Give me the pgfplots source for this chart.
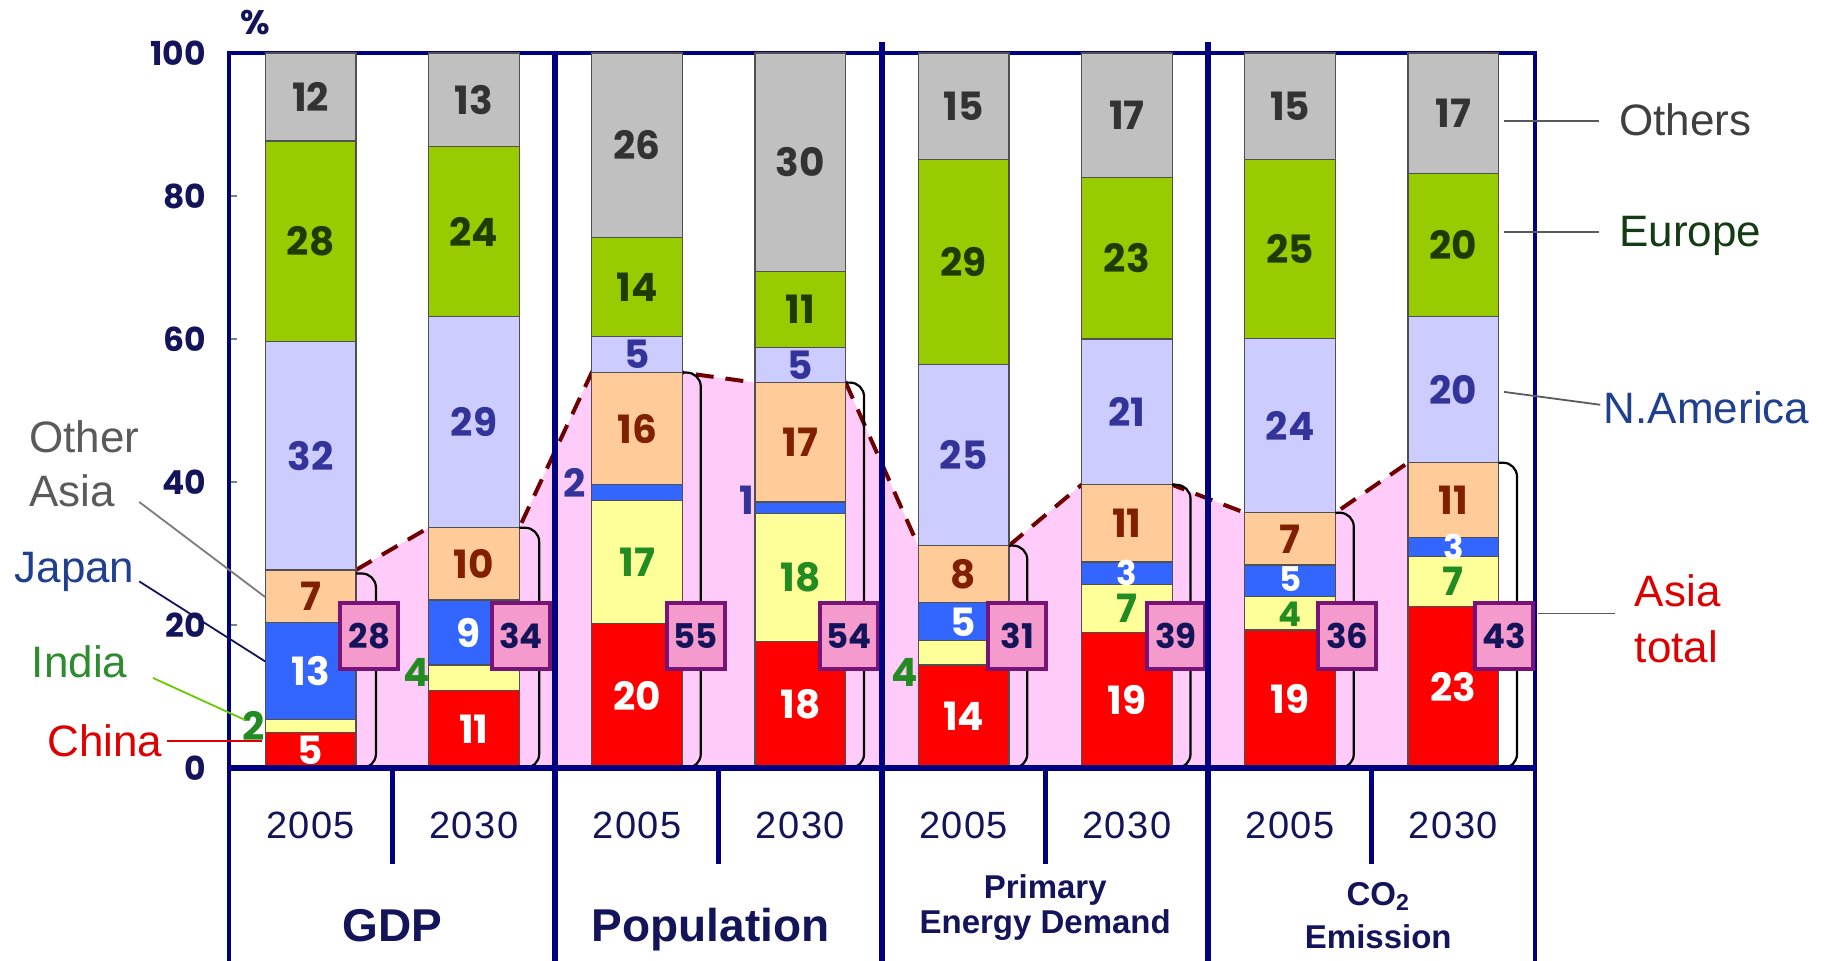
\documentclass[border=0pt]{standalone}
\usepackage{fontspec}
\setmainfont{Liberation Sans}
\newfontfamily\gothic{Poppins}
\newfontfamily\spaced{Liberation Sans}[LetterSpace=4]
\usepackage{pgfplots}
\usepackage{pgfplotstable}
\pgfplotsset{compat=1.18}

\definecolor{navy}{RGB}{0,0,128}
\definecolor{tNavy}{RGB}{20,20,90}
\definecolor{cChina}{RGB}{255,0,0}
\definecolor{cIndia}{RGB}{255,255,153}
\definecolor{cJapan}{RGB}{51,102,255}
\definecolor{cOA}{RGB}{255,204,153}
\definecolor{cNA}{RGB}{204,204,255}
\definecolor{cEU}{RGB}{153,204,0}
\definecolor{cOth}{RGB}{192,192,192}
\definecolor{cPink}{RGB}{255,204,250}
\definecolor{cBox}{RGB}{244,154,204}
\definecolor{cBoxLine}{RGB}{120,20,120}
\definecolor{tNA}{RGB}{51,51,153}
\definecolor{tOA}{RGB}{128,32,0}
\definecolor{tEU}{RGB}{30,60,0}
\definecolor{tOth}{RGB}{51,51,51}
\definecolor{tIndia}{RGB}{34,139,34}
\definecolor{dashc}{RGB}{110,0,0}
\definecolor{barline}{RGB}{80,80,80}
\definecolor{annGray}{RGB}{90,90,90}
\definecolor{annBlue}{RGB}{31,63,143}
\definecolor{annGreen}{RGB}{46,139,46}
\definecolor{annRed}{RGB}{220,0,0}
\definecolor{annEU}{RGB}{20,60,20}

% shares (%) of world, bottom to top: China, India, Japan, Other Asia, N.America, Europe, Others
% x: 0 GDP2005, 1 GDP2030, 2 Pop2005, 3 Pop2030, 4 PED2005, 5 PED2030, 6 CO2 2005, 7 CO2 2030
\pgfplotstableread{
x china india japan oa na eu oth
0 5.0 1.8 13.5 7.4 31.9 28.1 12.3
1 10.8 3.6 9.1 10.1 29.5 23.8 13.1
2 20.2 17.2 2.2 15.7 5.0 13.9 25.8
3 17.7 17.9 1.6 16.7 4.9 10.6 30.6
4 14.4 3.4 5.3 8.0 25.3 28.7 14.9
5 18.9 6.8 3.1 10.8 20.4 22.6 17.4
6 19.3 4.7 4.4 7.3 24.4 25.0 14.9
7 22.6 7.0 2.6 10.5 20.4 20.0 16.9
}\shares

\newcommand\segfont{\gothic\bfseries\fontsize{19.5}{21}\selectfont}
\newcommand\smallseg{\gothic\bfseries\fontsize{17}{19}\selectfont}
\newcommand\boxfont{\gothic\bfseries\fontsize{17}{19}\selectfont}
\newcommand\annfont{\fontsize{22}{28}\selectfont}
\newcommand\catfont{\bfseries\fontsize{23}{27}\selectfont}
\newcommand\subcatfont{\bfseries\fontsize{16.5}{20}\selectfont}
\newcommand\yrfont{\spaced\fontsize{19}{22}\selectfont}

\tikzset{
  lab/.style={font=\segfont, inner sep=0pt},
  abox/.style={fill=cBox, draw=cBoxLine, line width=2pt, minimum width=29pt,
     minimum height=33pt, inner sep=0pt, font=\boxfont, text=tNavy},
  ann/.style={font=\annfont, inner sep=0pt, anchor=base west},
  brk/.style={black, line width=1.1pt, rounded corners=7pt},
}

\begin{document}
\begin{tikzpicture}
\useasboundingbox (-114.5pt,-96.5pt) rectangle (807.5pt,384pt);
\pgfplotsset{common/.style={width=653pt,height=357.5pt,scale only axis,
  xmin=-0.5,xmax=7.5,ymin=0,ymax=100,enlargelimits=false,clip=false}}

% Asia total area and dashed connector
\begin{axis}[common, hide axis]
\addplot[fill=cPink, draw=none] coordinates {
(0.278,27.7) (0.722,33.6) (1.278,33.6) (1.722,55.3) (2.278,55.3) (2.722,53.9)
(3.278,53.9) (3.722,31.1) (4.278,31.1) (4.722,39.6) (5.278,39.6) (5.722,35.7)
(6.278,35.7) (6.722,42.7)} \closedcycle;
\addplot[dashc, line width=2pt, dash pattern=on 9pt off 6pt] coordinates {
(0.278,27.7) (0.722,33.6) (1.278,33.6) (1.722,55.3) (2.278,55.3) (2.722,53.9)
(3.278,53.9) (3.722,31.1) (4.278,31.1) (4.722,39.6) (5.278,39.6) (5.722,35.7)
(6.278,35.7) (6.722,42.7)};
\end{axis}

% stacked bars
\begin{axis}[common, ybar stacked, bar width=0.556,
  axis line style={navy, line width=2.2pt},
  xtick=\empty, ytick={0,20,40,60,80,100}, ytick pos=left, tick align=inside,
  major tick length=4pt, tick style={gray, line width=0.8pt},
  /pgf/number format/assume math mode=true,
  yticklabel style={font=\gothic\bfseries\fontsize{16.5}{18}\selectfont, text=tNavy, xshift=-8pt},
  every axis plot/.append style={draw=barline, line width=0.6pt},
]
\addplot[fill=cChina] table[x=x,y=china]{\shares};
\addplot[fill=cIndia] table[x=x,y=india]{\shares};
\addplot[fill=cJapan] table[x=x,y=japan]{\shares};
\addplot[fill=cOA] table[x=x,y=oa]{\shares};
\addplot[fill=cNA] table[x=x,y=na]{\shares};
\addplot[fill=cEU] table[x=x,y=eu]{\shares};
\addplot[fill=cOth] table[x=x,y=oth]{\shares};
\end{axis}

% labels and decorations on top
\begin{axis}[common, hide axis]
% segment labels: China
\node[lab,text=white] at (axis cs:0,2.5) {5};
\node[lab,text=white] at (axis cs:1,5.4) {11};
\node[lab,text=white] at (axis cs:2,10.1) {20};
\node[lab,text=white] at (axis cs:3,8.85) {18};
\node[lab,text=white] at (axis cs:4,7.2) {14};
\node[lab,text=white] at (axis cs:5,9.45) {19};
\node[lab,text=white] at (axis cs:6,9.65) {19};
\node[lab,text=white] at (axis cs:7,11.3) {23};
% India
\node[lab,text=tIndia] at (axis cs:-0.35,5.9) {2};
\node[lab,text=tIndia] at (axis cs:0.65,13.3) {4};
\node[lab,text=tIndia] at (axis cs:2,28.8) {17};
\node[lab,text=tIndia] at (axis cs:3,26.65) {18};
\node[lab,text=tIndia] at (axis cs:3.64,13.3) {4};
\node[lab,text=tIndia] at (axis cs:5,22.3) {7};
\node[lab,text=tIndia, font=\smallseg] at (axis cs:6,21.5) {4};
\node[lab,text=tIndia] at (axis cs:7,26.1) {7};
% Japan
\node[lab,text=white] at (axis cs:0,13.55) {13};
\node[lab,text=white] at (axis cs:0.97,18.95) {9};
\node[lab,text=tNA] at (axis cs:1.62,39.8) {2};
\node[lab,text=tNA] at (axis cs:2.67,37.5) {1};
\node[lab,text=white] at (axis cs:4,20.45) {5};
\node[lab,text=white, font=\smallseg] at (axis cs:5,27.25) {3};
\node[lab,text=white, font=\smallseg] at (axis cs:6,26.4) {5};
\node[lab,text=white, font=\smallseg] at (axis cs:7,30.9) {3};
% Other Asia
\node[lab,text=tOA] at (axis cs:0,24) {7};
\node[lab,text=tOA] at (axis cs:1,28.55) {10};
\node[lab,text=tOA] at (axis cs:2,47.45) {16};
\node[lab,text=tOA] at (axis cs:3,45.55) {17};
\node[lab,text=tOA] at (axis cs:4,27.1) {8};
\node[lab,text=tOA] at (axis cs:5,34.2) {11};
\node[lab,text=tOA] at (axis cs:6,32.05) {7};
\node[lab,text=tOA] at (axis cs:7,37.45) {11};
% N.America
\node[lab,text=tNA] at (axis cs:0,43.65) {32};
\node[lab,text=tNA] at (axis cs:1,48.35) {29};
\node[lab,text=tNA] at (axis cs:2,57.8) {5};
\node[lab,text=tNA] at (axis cs:3,56.35) {5};
\node[lab,text=tNA] at (axis cs:4,43.75) {25};
\node[lab,text=tNA] at (axis cs:5,49.8) {21};
\node[lab,text=tNA] at (axis cs:6,47.9) {24};
\node[lab,text=tNA] at (axis cs:7,52.9) {20};
% Europe
\node[lab,text=tEU] at (axis cs:0,73.65) {28};
\node[lab,text=tEU] at (axis cs:1,75) {24};
\node[lab,text=tEU] at (axis cs:2,67.25) {14};
\node[lab,text=tEU] at (axis cs:3,64.1) {11};
\node[lab,text=tEU] at (axis cs:4,70.75) {29};
\node[lab,text=tEU] at (axis cs:5,71.3) {23};
\node[lab,text=tEU] at (axis cs:6,72.6) {25};
\node[lab,text=tEU] at (axis cs:7,73.1) {20};
% Others
\node[lab,text=tOth] at (axis cs:0,93.85) {12};
\node[lab,text=tOth] at (axis cs:1,93.45) {13};
\node[lab,text=tOth] at (axis cs:2,87.1) {26};
\node[lab,text=tOth] at (axis cs:3,84.7) {30};
\node[lab,text=tOth] at (axis cs:4,92.55) {15};
\node[lab,text=tOth] at (axis cs:5,91.3) {17};
\node[lab,text=tOth] at (axis cs:6,92.55) {15};
\node[lab,text=tOth] at (axis cs:7,91.55) {17};

% brackets for Asia totals
\draw[brk] (axis cs:0.278,0) -- (axis cs:0.40,0) -- (axis cs:0.40,27.2) -- (axis cs:0.278,27.2);
\draw[brk] (axis cs:1.278,0) -- (axis cs:1.40,0) -- (axis cs:1.40,33.6) -- (axis cs:1.278,33.6);
\draw[brk] (axis cs:2.278,0) -- (axis cs:2.39,0) -- (axis cs:2.39,55.3) -- (axis cs:2.278,55.3);
\draw[brk] (axis cs:3.278,0) -- (axis cs:3.39,0) -- (axis cs:3.39,53.9) -- (axis cs:3.278,53.9);
\draw[brk] (axis cs:4.278,0) -- (axis cs:4.39,0) -- (axis cs:4.39,31.1) -- (axis cs:4.278,31.1);
\draw[brk] (axis cs:5.278,0) -- (axis cs:5.39,0) -- (axis cs:5.39,39.6) -- (axis cs:5.278,39.6);
\draw[brk] (axis cs:6.278,0) -- (axis cs:6.39,0) -- (axis cs:6.39,35.7) -- (axis cs:6.278,35.7);
\draw[brk] (axis cs:7.278,0) -- (axis cs:7.39,0) -- (axis cs:7.39,42.7) -- (axis cs:7.278,42.7);

% Asia total boxes
\node[abox] at (axis cs:0.36,18.45) {28};
\node[abox] at (axis cs:1.29,18.45) {34};
\node[abox] at (axis cs:2.36,18.45) {55};
\node[abox] at (axis cs:3.30,18.45) {54};
\node[abox] at (axis cs:4.33,18.45) {31};
\node[abox] at (axis cs:5.30,18.45) {39};
\node[abox] at (axis cs:6.35,18.45) {36};
\node[abox] at (axis cs:7.31,18.45) {43};

% frame extensions and dividers
\draw[navy, line width=3.3pt] (axis cs:-0.5,0) -- (axis cs:7.5,0);
\draw[navy, line width=2.4pt] (axis cs:-0.5,0) -- (axis cs:-0.5,-28);
\draw[navy, line width=2.4pt] (axis cs:7.5,0) -- (axis cs:7.5,-28);
\draw[navy, line width=3pt] (axis cs:1.5,100) -- (axis cs:1.5,-28);
\draw[navy, line width=3pt] (axis cs:3.5,101.5) -- (axis cs:3.5,-28);
\draw[navy, line width=3pt] (axis cs:5.5,101.5) -- (axis cs:5.5,-28);
\draw[navy, line width=2.4pt] (axis cs:0.5,0) -- (axis cs:0.5,-13.4);
\draw[navy, line width=2.4pt] (axis cs:2.5,0) -- (axis cs:2.5,-13.4);
\draw[navy, line width=2.4pt] (axis cs:4.5,0) -- (axis cs:4.5,-13.4);
\draw[navy, line width=2.4pt] (axis cs:6.5,0) -- (axis cs:6.5,-13.4);

% year labels
\node[font=\yrfont, text=tNavy] at (axis cs:0,-8.0) {2005};
\node[font=\yrfont, text=tNavy] at (axis cs:1,-8.0) {2030};
\node[font=\yrfont, text=tNavy] at (axis cs:2,-8.0) {2005};
\node[font=\yrfont, text=tNavy] at (axis cs:3,-8.0) {2030};
\node[font=\yrfont, text=tNavy] at (axis cs:4,-8.0) {2005};
\node[font=\yrfont, text=tNavy] at (axis cs:5,-8.0) {2030};
\node[font=\yrfont, text=tNavy] at (axis cs:6,-8.0) {2005};
\node[font=\yrfont, text=tNavy] at (axis cs:7,-8.0) {2030};

% category labels
\node[font=\catfont, text=tNavy, anchor=base, inner sep=0pt] at (axis cs:0.5,-24.3) {GDP};
\node[font=\catfont, text=tNavy, anchor=base, inner sep=0pt] at (axis cs:2.45,-24.3) {Population};
\node[font=\subcatfont, text=tNavy, anchor=base, inner sep=0pt] at (axis cs:4.5,-18.2) {Primary};
\node[font=\subcatfont, text=tNavy, anchor=base, inner sep=0pt] at (axis cs:4.5,-23.1) {Energy Demand};
\node[font=\subcatfont, text=tNavy, anchor=base, inner sep=0pt] at (axis cs:6.54,-19.2) {CO\textsubscript{2}};
\node[font=\subcatfont, text=tNavy, anchor=base, inner sep=0pt] at (axis cs:6.54,-25.2) {Emission};

% percent sign
\node[font=\gothic\bfseries\fontsize{17}{18}\selectfont, text=tNavy] at (axis cs:-0.34,104.3) {\%};

% left annotations
\draw[annGray!80, line width=0.9pt] (axis cs:-1.05,37.2) -- (axis cs:-0.278,23.9);
\draw[tNavy, line width=0.9pt] (axis cs:-1.05,26.1) -- (axis cs:-0.278,14.9);
\draw[green!50!yellow!80!black, line width=0.9pt] (axis cs:-0.966,12.6) -- (axis cs:-0.40,6.7);
\draw[annRed, line width=0.9pt] (axis cs:-0.88,3.8) -- (axis cs:-0.30,3.8);
\node[ann, text=annGray] at (axis cs:-1.725,44.1) {Other};
\node[ann, text=annGray] at (axis cs:-1.725,36.6) {Asia};
\node[ann, text=annBlue] at (axis cs:-1.816,26.0) {Japan};
\node[ann, text=annGreen] at (axis cs:-1.71,12.6) {India};
\node[ann, text=annRed] at (axis cs:-1.615,1.6) {China};

% right annotations
\draw[annGray, line width=0.9pt] (axis cs:7.31,90.5) -- (axis cs:7.89,90.5);
\draw[annGray, line width=0.9pt] (axis cs:7.31,75.0) -- (axis cs:7.89,75.0);
\draw[annGray, line width=0.9pt] (axis cs:7.31,52.6) -- (axis cs:7.90,50.8);
\draw[annGray, line width=0.9pt] (axis cs:7.52,21.6) -- (axis cs:7.99,21.6);
\node[ann, text=annGray!70!black] at (axis cs:8.015,88.5) {Others};
\node[ann, text=annEU] at (axis cs:8.015,72.9) {Europe};
\node[ann, text=annBlue] at (axis cs:7.92,48.25) {N.America};
\node[ann, text=annRed] at (axis cs:8.11,22.6) {Asia};
\node[ann, text=annRed] at (axis cs:8.11,14.7) {total};
\end{axis}
\end{tikzpicture}
\end{document}
